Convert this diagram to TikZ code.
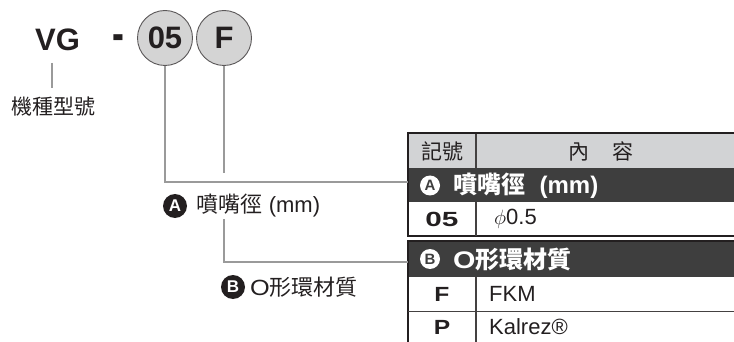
\documentclass[tikz,border=0pt]{standalone}
\usepackage{fontspec}
\setmainfont{Liberation Sans}
\newfontfamily\cjk{Noto Sans CJK TC}
\definecolor{leadgray}{HTML}{9A9A9A}
\definecolor{circfill}{HTML}{D4D4D4}
\definecolor{hdrgray}{HTML}{D2D3D5}
\definecolor{band}{HTML}{3E3E3E}
\definecolor{ink}{HTML}{231F20}
\tikzset{
  lead/.style={draw=leadgray, line width=1.8pt},
  codecirc/.style={circle, draw=ink!75, line width=0.9pt, fill=circfill, minimum size=55pt, inner sep=0pt, font=\bfseries\fontsize{31}{31}\selectfont, text=ink},
  blackmark/.style={circle, fill=ink, text=white, inner sep=0pt, minimum size=24pt, font=\bfseries\fontsize{17}{17}\selectfont},
  whitemark/.style={circle, fill=white, text=band, inner sep=0pt, minimum size=20pt, font=\bfseries\fontsize{15}{15}\selectfont},
  lbl/.style={inner sep=0pt, font=\fontsize{22}{22}\selectfont, text=ink},
  hdr/.style={inner sep=0pt, font=\cjk\fontsize{21}{21}\selectfont, text=ink},
  cell/.style={inner sep=0pt, font=\fontsize{22}{22}\selectfont, text=ink},
  bcell/.style={inner sep=0pt, font=\bfseries\fontsize{20.5}{20.5}\selectfont, text=ink},
  bandtxt/.style={inner sep=0pt, font=\bfseries\fontsize{24}{24}\selectfont, text=white},
  border/.style={draw=ink, line width=2pt},
  thin/.style={draw=ink!85, line width=1.2pt}
}
\begin{document}
\begin{tikzpicture}[x=1pt,y=-1pt]
\useasboundingbox (0,0) rectangle (734,342);
% model code
\node[inner sep=0pt, font=\bfseries\fontsize{31}{31}\selectfont, text=ink] (vg) at (57.5,40) {VG};
\node[inner sep=0pt, font=\bfseries\fontsize{31}{31}\selectfont, text=ink, anchor=base] (dash) at (118.5,51) {\scalebox{1.15}[1.6]{-}};
\node[codecirc] (c05) at (165,38) {05};
\node[codecirc] (cF) at (224,38) {F};
\node[lbl, font=\cjk\fontsize{21}{21}\selectfont] (model) at (54,107) {機種型號};
\coordinate (vgtop) at (52,63);
\coordinate (vgbot) at (52,88);
\draw[lead] (vgtop) -- (vgbot);
% table
\fill[hdrgray] (408,133) rectangle (734,168);
\fill[band] (408,168) rectangle (734,202);
\fill[band] (408,241) rectangle (734,277);
\draw[border] (408,133) -- (734,133);
\draw[border] (408,236) -- (734,236);
\draw[border] (408,241) -- (734,241);
\draw[border] (408,132) -- (408,237);
\draw[border] (408,240) -- (408,342);
\draw[thin] (408,311.5) -- (734,311.5);
\draw[thin] (476,134) -- (476,168);
\draw[thin] (476,202) -- (476,236);
\draw[thin] (476,277) -- (476,342);
% header
\node[hdr] (hcode) at (442,151) {記號};
\node[hdr] (hcont) at (601,151) {內\hspace{1.1em}容};
% band A
\node[whitemark] (mA) at (430,185.5) {A};
\node[bandtxt, anchor=west] (tA) at (453,185.5) {{\cjk 噴嘴徑}\hspace{0.6em}(mm)};
\node[bcell] (r05) at (442,219) {\scalebox{1.45}[1]{05}};
\node[cell, anchor=west] (r05v) at (494,219) {$\phi$0.5};
% band B
\node[whitemark] (mB) at (430,259) {B};
\node[bandtxt, anchor=west] (tB) at (453,259) {\scalebox{1.2}[1]{O}{\cjk 形環材質}};
\node[bcell] (rF) at (442,294) {\scalebox{1.2}[1]{F}};
\node[cell, anchor=west] (rFv) at (489,294) {FKM};
\node[bcell] (rP) at (442,327) {\scalebox{1.2}[1]{P}};
\node[cell, anchor=west] (rPv) at (489,327) {Kalrez®};
% outer labels
\node[blackmark] (oA) at (175,206) {A};
\node[lbl, anchor=west] (lA) at (196,206) {{\cjk 噴嘴徑}\hspace{0.3em}(mm)};
\node[blackmark] (oB) at (233,287) {B};
\node[lbl, anchor=west] (lB) at (250,287) {\scalebox{1.15}[1]{O}{\cjk 形環材質}};
% leaders
\coordinate (tabA) at (408,182);
\coordinate (tabB) at (408,262);
\coordinate (fend) at (224,173);
\coordinate (fstart) at (224,219);
\draw[lead] (c05.south) |- (tabA);
\draw[lead] (cF.south) -- (fend);
\draw[lead] (fstart) |- (tabB);
\end{tikzpicture}
\end{document}
